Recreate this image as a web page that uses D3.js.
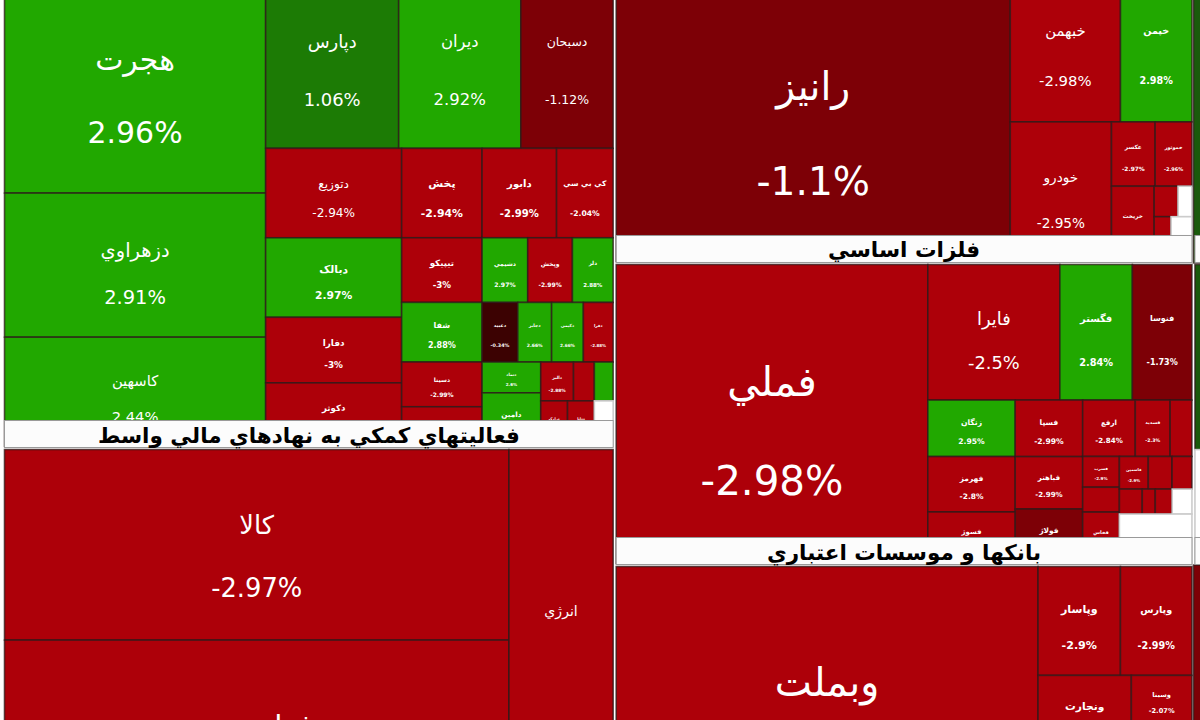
<!DOCTYPE html>
<html>
<head>
<meta charset="utf-8">
<script src="https://cdn.jsdelivr.net/npm/d3@7"></script>
<style>
  body { margin: 0; background: #fff; }
  svg { display: block; }
  text { font-family: "DejaVu Sans", sans-serif; }
</style>
</head>
<body>
<div id="chart"></div>
<script>
// market map of the session, values = market cap (rough, read from tile areas)
// tiles spec: ["x"|"y", ...children] -> children placed side by side (x) or stacked (y)

// pharma sector (its header is above the visible part)
const pharmaNames = ["هجرت","دزهراوي","کاسهين","دپارس","ديران","دسبحان","دتوزيع","دبالک","دفارا","دکوثر",
  "پخش","دابور","کي بي سي","تيپيکو","شفا","دسينا","دکپسول","دشيمي","وپخش","دلر",
  "دعبيد","دجابر","دکيمي","دفرا","دتماد","دامين","دالبر","داسوه","دسانکو","درازک","ددانا",null];
const pharmaChange = [2.96,2.91,2.44,1.06,2.92,-1.12,-2.94,2.97,-3,-2.9,
  -2.94,-2.99,-2.04,-3,2.88,-2.99,-2.95,2.97,-2.99,2.88,
  -0.34,2.66,2.66,-2.88,2.6,2.7,-2.88,-2.9,2.8,-2.9,-2.8,0];
const pharmaCap = [586.5,381.4,289.3,238.5,218.9,165.5,123.3,109.6,90.4,87.7,
  72.9,67.5,51.3,52.7,48.6,36.5,32.4,29.9,29.3,26.7,
  21.6,20.4,19.2,18,18.3,31.9,12.9,8.2,7.4,12.4,12.4,8.7];
const pharmaTiles = ["x", ["y",0,1,2], ["y", ["x",3,4,5], ["x", ["y",6,7,8,9], ["y", ["x",10,11,12],
  ["x", ["y",13,14,15,16], ["y", ["x",17,18,19], ["x",20,21,22,23], ["x", ["y",24,25], ["y", ["x",26,27,28], ["x",29,30,31]]]]]]]]];

const financeTitle = "فعاليتهاي کمکي به نهادهاي مالي واسط";
const financeNames = ["کالا","فرابورس","انرژي"];
const financeChange = [-2.97,-2.9,-2.9];
const financeCap = [975.4,1117.6,432.6];
const financeTiles = ["x", ["y",0,1], 2];

// auto & parts sector (header above the view)
const autoNames = ["رانيز","خبهمن","خپمن","خودرو","عکسر","خموتور","خريخت","خزاميا",null,"خگستر",null];
const autoChange = [-1.1,-2.98,2.98,-2.95,-2.97,-2.96,-2.89,-2.9,0,-2.9,0];
const autoCap = [1163.2,168.7,109.4,143.8,28.6,24.1,32.7,7.4,4.3,7.7,9.5];
const autoTiles = ["x", 0, ["y", ["x",1,2], ["x",3, ["y", ["x",4,5], ["x",6, ["y", ["x",7,8], ["x",9,10]]]]]]];

const metalsTitle = "فلزات اساسي";
const metalsNames = ["فملي","فايرا","فگستر","فنوسا","زنگان","فهرمز","فسوژ","فسپا","فباهنر","فولاژ",
  "ارفع","فسديد","فجر","فسرب","فرود","فخاس","فاسمين","فنورد","فاما","فکوش","فلوله","فروس",null,null];
const metalsChange = [-2.98,-2.5,2.84,-1.73,2.95,-2.8,-2.9,-2.99,-2.99,-1.5,
  -2.84,-2.3,-2.9,-2.9,-2.9,-2.9,-2.9,-2.9,-2.9,-2.9,-2.9,-2.9,0,0];
const metalsCap = [948.3,182.2,100,82.2,50.2,49.3,45.8,38.8,36,37.4,
  30.2,20,12.5,11.5,9.3,19.2,9.6,7.9,6.6,5.8,3.3,4.3,5,36.5];
const metalsTiles = ["x", 0, ["y", ["x",1,2,3], ["x", ["y",4,5,6], ["y",7,8,9], ["y", ["x",10,11,12],
  ["x", ["y",13,14,15], ["y", ["x",16,17,18], ["x",19,20,21,22], 23]]]]]];

const banksTitle = "بانکها و موسسات اعتباري";
const banksNames = ["وبملت","وپاسار","وپارس","ونجارت","","وسينا",""];
const banksChange = [-2.97,-2.9,-2.99,-2.97,-2.95,-2.07,-2.9];
const banksCap = [1253.8,91.3,79.2,75.2,98.7,30.5,82.4];
const banksTiles = ["x", 0, ["y", ["x",1,2], ["x", ["y",3,4], ["y",5,6]]]];

// next column, only its left edge is in view
const edgeChange = [0.6, 0.6, -1.3];
const edgeCap = [606.5, 387.1, 238.1, 610.7];

const color = d3.scaleThreshold()
  .domain([-2, -1, 0, 1, 2])
  .range(["#ad0009", "#7d0006", "#3c0202", "#1a5a0c", "#1c7b05", "#21a800"]);

function buildNode(spec, names, chg, cap) {
  if (typeof spec === 'number') {
    return {name: names[spec], change: chg[spec], value: cap[spec], empty: names[spec] === null};
  }
  return {dir: spec[0], children: spec.slice(1).map(s => buildNode(s, names, chg, cap))};
}

function sector(title, tiles, names, chg, cap) {
  var n = buildNode(tiles, names, chg, cap);
  n.sector = true;
  n.title = title;
  return n;
}

var data = {dir: 'x', children: [
  {dir: 'y', children: [
    sector(null, pharmaTiles, pharmaNames, pharmaChange, pharmaCap),
    sector(financeTitle, financeTiles, financeNames, financeChange, financeCap)
  ]},
  {dir: 'y', children: [
    sector(null, autoTiles, autoNames, autoChange, autoCap),
    sector(metalsTitle, metalsTiles, metalsNames, metalsChange, metalsCap),
    sector(banksTitle, banksTiles, banksNames, banksChange, banksCap)
  ]},
  {dir: 'y', children: [
    sector(null, 0, [""], [edgeChange[0]], [edgeCap[0]]),
    sector("", ["y",0,1], ["", null], [edgeChange[1], 0], [edgeCap[1], edgeCap[2]]),
    sector("", 0, [""], [edgeChange[2]], [edgeCap[3]])
  ]}
]};

function tile(node, x0, y0, x1, y1) {
  if (node.data.dir === 'y') d3.treemapSlice(node, x0, y0, x1, y1);
  else d3.treemapDice(node, x0, y0, x1, y1);
}

var width = 1200, height = 720;
var headH = 28;

var root = d3.hierarchy(data).sum(d => d.children ? 0 : d.value);

d3.treemap()
  .tile(tile)
  .size([1397, 890])
  .paddingOuter(d => d.data.sector ? 1.5 : 0)
  (root);

var svg = d3.select('#chart').append('svg')
  .attr('width', width)
  .attr('height', height);

svg.append('rect').attr('width', width).attr('height', height).attr('fill', '#fff');

var g = svg.append('g').attr('transform', 'translate(3,-30)');

var leaves = root.leaves();

var cell = g.selectAll('g.cell')
  .data(leaves)
  .enter().append('g')
  .attr('class', 'cell');

cell.append('rect')
  .attr('x', d => d.x0)
  .attr('y', d => d.y0)
  .attr('width', d => d.x1 - d.x0)
  .attr('height', d => d.y1 - d.y0)
  .attr('fill', d => d.data.empty ? '#fff' : color(d.data.change))
  .attr('stroke', d => d.data.empty ? '#ccc' : 'rgba(45,25,25,0.75)')
  .attr('stroke-width', 1.6);

function fontSize(d) {
  return Math.min(42, 0.135 * Math.min(d.x1 - d.x0, d.y1 - d.y0));
}
var nameFrac = 0.395, pctFrac = 0.725;

var labelled = cell.filter(d => !d.data.empty && d.data.name !== '' && fontSize(d) >= 3.5);

labelled.append('text')
  .attr('x', d => (d.x0 + d.x1) / 2)
  .attr('y', d => d.y0 + (d.y1 - d.y0) * nameFrac)
  .attr('text-anchor', 'middle')
  .attr('dominant-baseline', 'central')
  .attr('fill', '#fff')
  .attr('font-size', d => fontSize(d) + 'px')
  .attr('font-weight', d => fontSize(d) < 12 ? 'bold' : 'normal')
  .text(d => d.data.name);

labelled.append('text')
  .attr('x', d => (d.x0 + d.x1) / 2)
  .attr('y', d => d.y0 + (d.y1 - d.y0) * pctFrac)
  .attr('text-anchor', 'middle')
  .attr('dominant-baseline', 'central')
  .attr('fill', '#fff')
  .attr('font-size', d => fontSize(d) + 'px')
  .attr('font-weight', d => fontSize(d) < 12 ? 'bold' : 'normal')
  .text(d => d.data.change + '%');

// sector headers sit just above the sector, over the bottom of the one before
var sectors = root.descendants().filter(d => d.data.sector && d.data.title !== null);

var head = g.selectAll('g.head')
  .data(sectors)
  .enter().append('g')
  .attr('class', 'head');

head.append('rect')
  .attr('x', d => d.x0 + 1.5)
  .attr('y', d => d.y0 - headH + 0.5)
  .attr('width', d => d.x1 - d.x0 - 3)
  .attr('height', headH - 1)
  .attr('fill', '#fcfcfc')
  .attr('stroke', '#9a9a9a')
  .attr('stroke-width', 1);

head.append('text')
  .attr('x', d => (d.x0 + d.x1) / 2)
  .attr('y', d => d.y0 - headH / 2 + 1)
  .attr('text-anchor', 'middle')
  .attr('dominant-baseline', 'central')
  .attr('font-size', '21.5px')
  .attr('font-weight', 'bold')
  .attr('fill', '#000')
  .text(d => d.data.title);
</script>
</body>
</html>
